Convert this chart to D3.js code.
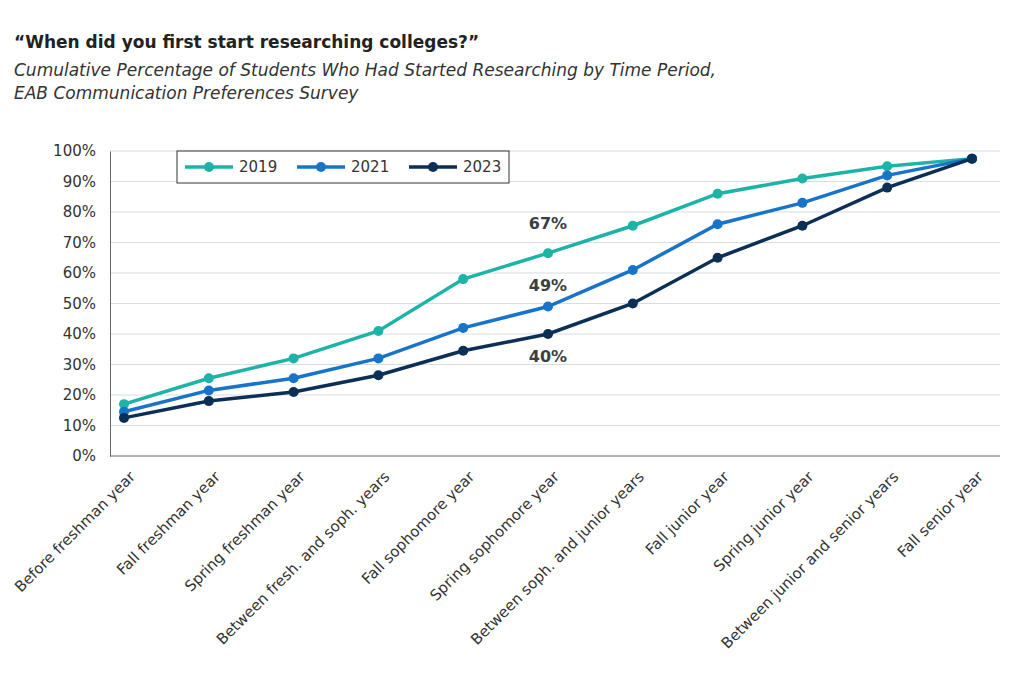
<!DOCTYPE html>
<html><head><meta charset="utf-8">
<script src="https://cdn.jsdelivr.net/npm/d3@7"></script>
<style>body{margin:0;background:#fff;font-family:"DejaVu Sans",Verdana,sans-serif}</style>
</head><body><div id="chart"></div>
<script>
const categories = ["Before freshman year","Fall freshman year","Spring freshman year","Between fresh. and soph. years","Fall sophomore year","Spring sophomore year","Between soph. and junior years","Fall junior year","Spring junior year","Between junior and senior years","Fall senior year"];
const values_2019 = [17, 25.5, 32, 41, 58, 66.5, 75.5, 86, 91, 95, 97.5];
const values_2021 = [14.5, 21.5, 25.5, 32, 42, 49, 61, 76, 83, 92, 97.5];
const values_2023 = [12.5, 18, 21, 26.5, 34.5, 40, 50, 65, 75.5, 88, 97.5];
const y_ticks = [0,10,20,30,40,50,60,70,80,90,100];
const series = [
  {name:"2019", values: values_2019, color:"#1db3a6"},
  {name:"2021", values: values_2021, color:"#1874c9"},
  {name:"2023", values: values_2023, color:"#0b2f55"}
];
const callouts = [{series:0, idx:5, text:"67%", dy:-24}, {series:1, idx:5, text:"49%", dy:-16}, {series:2, idx:5, text:"40%", dy:28}];

const svg = d3.select("#chart").append("svg").attr("width",1024).attr("height",688);

svg.append("text").attr("x",14).attr("y",48).style("font-size","17px").style("font-weight","bold").attr("fill","#222")
  .text("“When did you first start researching colleges?”");
svg.append("text").attr("x",14).attr("y",76).style("font-size","17px").style("font-style","italic").attr("fill","#333")
  .text("Cumulative Percentage of Students Who Had Started Researching by Time Period,");
svg.append("text").attr("x",14).attr("y",99).style("font-size","17px").style("font-style","italic").attr("fill","#333")
  .text("EAB Communication Preferences Survey");

const plot_left = 110, plot_right = 1000, plot_top = 151, plot_bottom = 456;
const x = d3.scalePoint().domain(categories).range([124, 972]);
const y = d3.scaleLinear().domain([0,100]).range([plot_bottom, plot_top]);

// grid
svg.append("g").selectAll("line").data(y_ticks.slice(1)).join("line")
  .attr("x1",plot_left).attr("x2",plot_right).attr("y1",d=>y(d)).attr("y2",d=>y(d))
  .attr("stroke","#d6dde0").attr("stroke-width",1);

const yAxis = svg.append("g").attr("transform",`translate(${plot_left},0)`)
  .call(d3.axisLeft(y).tickValues(y_ticks).tickFormat(d=>d+"%").tickSize(0).tickPadding(14));
yAxis.select(".domain").attr("stroke","#666");
yAxis.selectAll("text").style("font-size","15px").attr("fill","#333").style("font-family","DejaVu Sans, sans-serif");

svg.append("line").attr("x1",plot_left).attr("x2",plot_right).attr("y1",plot_bottom).attr("y2",plot_bottom).attr("stroke","#666");

const xAxis = svg.append("g").attr("transform",`translate(0,${plot_bottom})`)
  .call(d3.axisBottom(x).tickSize(0).tickPadding(0));
xAxis.select(".domain").remove();
xAxis.selectAll("text").style("font-size","15px").attr("fill","#333").style("font-family","DejaVu Sans, sans-serif")
  .attr("text-anchor","end").attr("y",0).attr("dy","0.35em").attr("transform","translate(8,18) rotate(-45)");

const line = d3.line().x((d,i)=>x(categories[i])).y(d=>y(d));
series.forEach(s=>{
  svg.append("path").datum(s.values).attr("d",line).attr("fill","none").attr("stroke",s.color).attr("stroke-width",3.5);
  svg.append("g").selectAll("circle").data(s.values).join("circle")
    .attr("cx",(d,i)=>x(categories[i])).attr("cy",d=>y(d)).attr("r",5).attr("fill",s.color);
});

callouts.forEach(c=>{
  svg.append("text").attr("x",x(categories[c.idx])).attr("y",y(series[c.series].values[c.idx])+c.dy)
    .attr("text-anchor","middle").style("font-size","16px").style("font-weight","bold").attr("fill","#3a3f44").text(c.text);
});

// legend
const lg = svg.append("g").attr("transform","translate(177,151)");
lg.append("rect").attr("width",332).attr("height",32).attr("fill","#fff").attr("stroke","#333");
series.forEach((s,i)=>{
  const g = lg.append("g").attr("transform",`translate(${8+i*112},16)`);
  g.append("line").attr("x1",0).attr("x2",48).attr("stroke",s.color).attr("stroke-width",3.5);
  g.append("circle").attr("cx",24).attr("r",5).attr("fill",s.color);
  g.append("text").attr("x",54).attr("dy","0.35em").style("font-size","15px").attr("fill","#333").text(s.name);
});
</script></body></html>
